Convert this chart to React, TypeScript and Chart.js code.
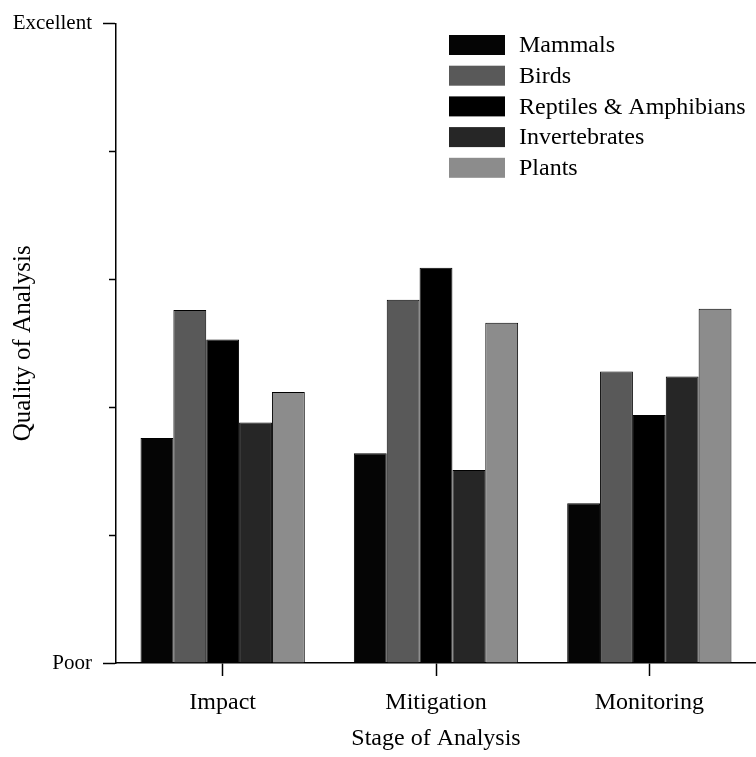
import React, { useEffect, useRef } from "react";
import { Chart, registerables } from "chart.js";

Chart.register(...registerables);

// Stages along the x axis
const stages = ["Impact", "Mitigation", "Monitoring"];

// Quality scores per taxon (0 = Poor, 5 = Excellent)
const mammals = [1.76, 1.64, 1.25];
const birds = [2.76, 2.84, 2.28];
const reptilesAmphibians = [2.53, 3.09, 1.94];
const invertebrates = [1.88, 1.51, 2.24];
const plants = [2.12, 2.66, 2.77];

const seriesNames = ["Mammals", "Birds", "Reptiles & Amphibians", "Invertebrates", "Plants"];
const seriesColors = ["#050505", "#595959", "#000000", "#262626", "#8c8c8c"];

// Only the ends of the quality scale carry a label
const yMin = 0;
const yMax = 5;
const yLabelMax = "Excellent";
const yLabelMin = "Poor";

const FONT = "'Liberation Serif', 'Times New Roman', serif";

const legendPlugin = {
  id: "boxLegend",
  afterDraw(chart: any) {
    const { ctx } = chart;
    ctx.save();
    ctx.font = `24px ${FONT}`;
    ctx.textBaseline = "middle";
    ctx.textAlign = "left";
    chart.data.datasets.forEach((ds: any, i: number) => {
      const top = 35 + i * 30.7;
      ctx.fillStyle = ds.backgroundColor;
      ctx.fillRect(449, top, 56, 20);
      ctx.fillStyle = "#000";
      ctx.fillText(ds.label, 519, top + 11);
    });
    ctx.restore();
  },
};

// Shorter tick marks for the unlabeled steps of the quality scale
const minorTickPlugin = {
  id: "minorTicks",
  afterDraw(chart: any) {
    const { ctx, scales, chartArea } = chart;
    const y = scales.y;
    ctx.save();
    ctx.strokeStyle = "#000";
    ctx.lineWidth = 1.5;
    y.ticks.forEach((t: any) => {
      if (t.value === yMin || t.value === yMax) return;
      const py = Math.round(y.getPixelForValue(t.value)) + 0.5;
      ctx.beginPath();
      ctx.moveTo(chartArea.left - 7, py);
      ctx.lineTo(chartArea.left, py);
      ctx.stroke();
    });
    ctx.restore();
  },
};

export default function App() {
  const canvasRef = useRef<HTMLCanvasElement | null>(null);

  useEffect(() => {
    if (!canvasRef.current) return;
    const values = [mammals, birds, reptilesAmphibians, invertebrates, plants];
    const chart = new Chart(canvasRef.current, {
      type: "bar",
      data: {
        labels: stages,
        datasets: seriesNames.map((name, i) => ({
          label: name,
          data: values[i],
          backgroundColor: seriesColors[i],
          borderColor: "#000",
          borderWidth: 1,
          categoryPercentage: 0.77,
          barPercentage: 1,
        })),
      },
      options: {
        responsive: false,
        animation: false,
        layout: { padding: { top: 19, right: 0, left: 0, bottom: 0 } },
        plugins: { legend: { display: false }, tooltip: { enabled: false } },
        scales: {
          x: {
            afterFit(scale: any) {
              scale.height = 94;
            },
            grid: {
              offset: false,
              drawOnChartArea: false,
              tickLength: 13,
              tickColor: "#000",
              tickWidth: 1.5,
            },
            border: { color: "#000", width: 1.5 },
            ticks: {
              color: "#000",
              padding: 12,
              font: { family: FONT, size: 24 },
            },
            title: {
              display: true,
              text: "Stage of Analysis",
              color: "#000",
              font: { family: FONT, size: 24, lineHeight: 1 },
              padding: { top: 0, bottom: 6 },
            },
          },
          y: {
            min: yMin,
            max: yMax,
            afterFit(scale: any) {
              scale.width = 116;
            },
            grid: {
              drawOnChartArea: false,
              tickLength: 13,
              tickWidth: 1.5,
              tickColor: (c: any) =>
                c.tick && (c.tick.value === yMin || c.tick.value === yMax) ? "#000" : "rgba(0,0,0,0)",
            },
            border: { color: "#000", width: 1.5 },
            ticks: {
              stepSize: 1,
              color: "#000",
              padding: 11,
              font: { family: FONT, size: 21 },
              callback: (v: any) => (v === yMax ? yLabelMax : v === yMin ? yLabelMin : ""),
            },
            title: {
              display: true,
              text: "Quality of Analysis",
              color: "#000",
              font: { family: FONT, size: 25, lineHeight: 1 },
              padding: { top: 11, bottom: 0 },
            },
          },
        },
      },
      plugins: [legendPlugin, minorTickPlugin],
    });
    return () => chart.destroy();
  }, []);

  return (
    <div style={{ position: "fixed", left: 0, top: 0, width: 756, height: 757, background: "#fff" }}>
      <canvas ref={canvasRef} width={756} height={757} style={{ display: "block" }} />
    </div>
  );
}
